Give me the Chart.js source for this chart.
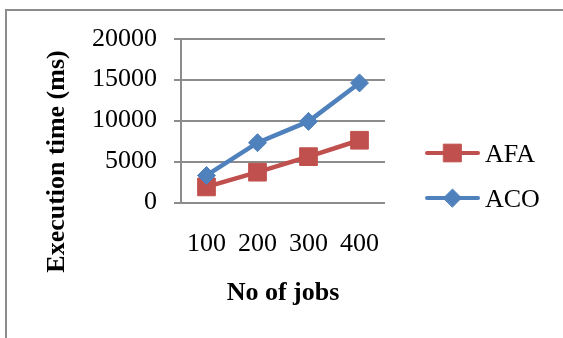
<!DOCTYPE html>
<html>
<head>
<meta charset="utf-8">
<script src="https://cdn.jsdelivr.net/npm/chart.js@4"></script>
<style>
  html, body { margin: 0; padding: 0; background: #fff; }
  canvas { display: block; }
</style>
</head>
<body>
<canvas id="myChart" width="563" height="338"></canvas>
<script>
// data
const jobs = ['100', '200', '300', '400'];
const afa = [1900, 3700, 5600, 7600];
const aco = [3300, 7300, 9900, 14600];
const yTicks = [0, 5000, 10000, 15000, 20000];

const grey = '#8c8c8c';
const serif = 'Liberation Serif, Times New Roman, serif';

// frame, y title and the line+marker legend, like the office chart
const extras = {
  id: 'extras',
  beforeDraw(chart) {
    const c = chart.ctx;
    c.save();
    c.fillStyle = '#fff';
    c.fillRect(0, 0, chart.width, chart.height);
    c.strokeStyle = grey;
    c.lineWidth = 2;
    c.strokeRect(6, 10, 600, 400);
    c.restore();
  },
  afterDraw(chart) {
    const c = chart.ctx;
    c.save();
    c.fillStyle = '#000';
    c.font = 'bold 26px ' + serif;
    c.textAlign = 'center';
    c.textBaseline = 'alphabetic';
    c.translate(64, 161.5);
    c.rotate(-Math.PI / 2);
    c.fillText('Execution time (ms)', 0, 0);
    c.restore();

    const rows = [153, 198];
    chart.data.datasets.forEach((ds, i) => {
      const y = rows[i];
      c.save();
      c.strokeStyle = ds.borderColor;
      c.lineWidth = 4;
      c.lineCap = 'round';
      c.beginPath();
      c.moveTo(427, y);
      c.lineTo(478, y);
      c.stroke();
      c.fillStyle = ds.pointBackgroundColor;
      c.strokeStyle = ds.borderColor;
      c.lineWidth = 1;
      Chart.helpers.drawPoint(c, {
        pointStyle: ds.pointStyle,
        radius: ds.pointRadius,
        borderWidth: 1
      }, 452.5, y);
      c.fillStyle = '#000';
      c.font = '26px ' + serif;
      c.textAlign = 'left';
      c.textBaseline = 'alphabetic';
      c.fillText(ds.label, 485, y + 9);
      c.restore();
    });
  }
};

new Chart(document.getElementById('myChart'), {
  type: 'line',
  data: {
    labels: jobs,
    datasets: [{
      label: 'AFA',
      data: afa,
      borderColor: '#c0504d',
      backgroundColor: '#c0504d',
      pointBackgroundColor: '#c0504d',
      borderWidth: 4.5,
      pointStyle: 'rect',
      pointRadius: 12.5,
      pointBorderWidth: 1,
      tension: 0,
      order: 1
    }, {
      label: 'ACO',
      data: aco,
      borderColor: '#4f81bd',
      backgroundColor: '#4f81bd',
      pointBackgroundColor: '#4f81bd',
      borderWidth: 4.5,
      pointStyle: 'rectRot',
      pointRadius: 9,
      pointBorderWidth: 1,
      tension: 0,
      order: 0
    }]
  },
  options: {
    responsive: false,
    animation: false,
    devicePixelRatio: 1,
    layout: {
      padding: { left: 35, top: 38.7, right: 178, bottom: 0 }
    },
    scales: {
      x: {
        offset: true,
        grid: { display: false, drawTicks: false },
        border: { display: false },
        ticks: {
          color: '#000',
          font: { family: serif, size: 26 },
          padding: 26,
          maxRotation: 0
        },
        title: {
          display: true,
          text: 'No of jobs',
          color: '#000',
          font: { family: serif, size: 26, weight: 'bold' },
          padding: { top: 0, bottom: 29.4 }
        },
        afterFit(scale) { scale.height = 135.5; }
      },
      y: {
        min: 0,
        max: 20000,
        afterBuildTicks(scale) {
          scale.ticks = yTicks.map(v => ({ value: v }));
        },
        grid: { color: grey, lineWidth: 2, tickLength: 7 },
        border: { display: true, color: grey, width: 2 },
        ticks: {
          color: '#000',
          font: { family: serif, size: 26 },
          padding: 17,
          callback: v => String(v)
        },
        afterFit(scale) { scale.width = 146; }
      }
    },
    plugins: {
      legend: { display: false },
      tooltip: { enabled: false }
    }
  },
  plugins: [extras]
});
</script>
</body>
</html>
